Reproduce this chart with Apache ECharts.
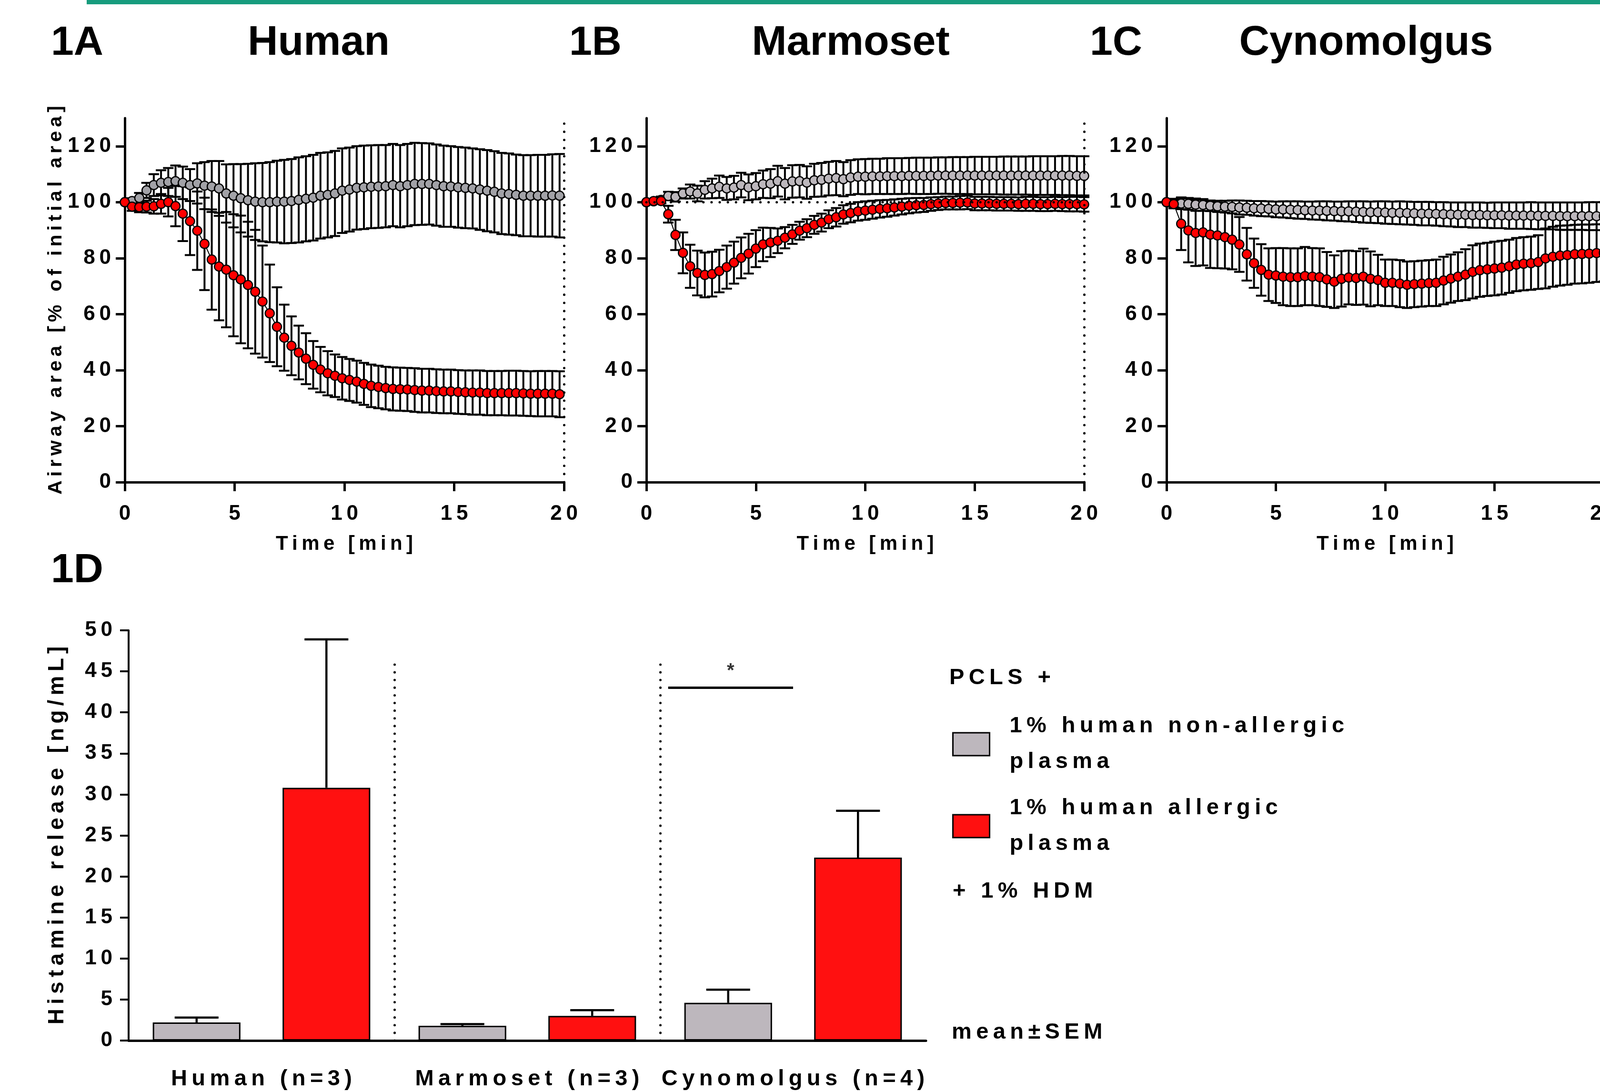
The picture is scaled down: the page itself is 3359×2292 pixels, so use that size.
<!DOCTYPE html>
<html>
<head>
<meta charset="utf-8">
<script src="https://cdn.jsdelivr.net/npm/echarts@6/dist/echarts.min.js"></script>
<style>
  html, body { margin: 0; padding: 0; background: #fff; }
  #chart { width: 3359px; height: 2292px; }
</style>
</head>
<body>
<div id="chart"></div>
<script>
const FONT = '"Liberation Sans", Arial, sans-serif'

// time points [min]
const timesA = [0, 0.33, 0.66, 0.99, 1.32, 1.65, 1.98, 2.31, 2.64, 2.97, 3.3, 3.63, 3.96, 4.29, 4.62, 4.95, 5.28, 5.61, 5.94, 6.27,
  6.6, 6.93, 7.26, 7.59, 7.92, 8.25, 8.58, 8.91, 9.24, 9.57, 9.9, 10.23, 10.56, 10.89, 11.22, 11.55, 11.88, 12.21, 12.54, 12.87,
  13.2, 13.53, 13.86, 14.19, 14.52, 14.85, 15.18, 15.51, 15.84, 16.17, 16.5, 16.83, 17.16, 17.49, 17.82, 18.15, 18.48, 18.81, 19.14, 19.47, 19.8]
const timesBC = [0, 0.33, 0.67, 1, 1.33, 1.67, 2, 2.33, 2.67, 3, 3.33, 3.67, 4, 4.33, 4.67, 5, 5.33, 5.67, 6, 6.33,
  6.67, 7, 7.33, 7.67, 8, 8.33, 8.67, 9, 9.33, 9.67, 10, 10.33, 10.67, 11, 11.33, 11.67, 12, 12.33, 12.67, 13,
  13.33, 13.67, 14, 14.33, 14.67, 15, 15.33, 15.67, 16, 16.33, 16.67, 17, 17.33, 17.67, 18, 18.33, 18.67, 19, 19.33, 19.67, 20]

// 1A Human - airway area [% of initial area], mean and SEM
const humanCtrl = [100, 100.4, 101.5, 104.2, 106.1, 106.9, 107.2, 107.5, 106.9, 106.1,
  106.7, 105.9, 105.6, 104.9, 103.1, 102.3, 101.4, 100.7, 100.2, 100,
  100, 100.2, 100.2, 100.4, 100.8, 101.2, 101.6, 102.3, 102.6, 103.1,
  104.1, 104.5, 105.1, 105.3, 105.5, 105.6, 105.7, 106.1, 105.7, 106.1,
  106.5, 106.5, 106.5, 106.1, 105.7, 105.6, 105.3, 105.1, 104.9, 104.5,
  104.1, 103.7, 103.1, 102.9, 102.6, 102.3, 102.3, 102.3, 102.3, 102.4, 102.3]
const humanCtrlSem = [0, 1.0, 1.8, 2.7, 3.9, 4.5, 5.0, 5.6, 5.8, 5.7,
  7.2, 8.4, 9.1, 9.8, 10.4, 11.3, 12.2, 13.0, 13.7, 14.0,
  14.3, 14.6, 14.9, 15.0, 15.2, 15.2, 15.3, 15.3, 15.2, 15.2,
  15.1, 15.0, 14.9, 14.9, 14.8, 14.8, 14.7, 14.7, 14.7, 14.7,
  14.7, 14.6, 14.5, 14.5, 14.5, 14.4, 14.4, 14.4, 14.3, 14.4,
  14.5, 14.5, 14.5, 14.5, 14.4, 14.5, 14.5, 14.6, 14.6, 14.7, 14.9]
const humanAll = [100, 98.4, 98.2, 98.4, 98.5, 99.4, 100, 98.6, 95.9, 93.2,
  89.8, 85.1, 79.5, 77, 75.9, 73.9, 72.4, 70.4, 68, 64.5,
  60.3, 55.5, 51.6, 48.7, 46.3, 44.1, 41.9, 40.2, 38.9, 38,
  37.1, 36.5, 35.9, 35.1, 34.4, 34, 33.6, 33.3, 33.2, 33.1,
  32.9, 32.7, 32.7, 32.5, 32.4, 32.4, 32.2, 32.1, 32, 32,
  31.8, 31.8, 31.8, 31.8, 31.8, 31.7, 31.6, 31.6, 31.6, 31.6, 31.4]
const humanAllSem = [0, 1.5, 1.8, 2.1, 2.6, 3.5, 5.1, 7.2, 9.8, 12.1,
  14.0, 16.5, 17.9, 19.2, 20.6, 21.8, 22.8, 22.6, 22.1, 20.0,
  17.4, 14.1, 11.8, 10.5, 9.6, 9.1, 8.5, 8.1, 7.9, 7.6,
  7.6, 7.5, 7.5, 7.5, 7.6, 7.6, 7.6, 7.7, 7.7, 7.7,
  7.8, 7.8, 7.8, 7.8, 7.8, 7.8, 7.8, 7.8, 7.9, 7.9,
  7.9, 7.9, 7.9, 8.0, 8.0, 8.0, 8.0, 8.1, 8.1, 8.1, 8.2]

// 1B Marmoset
const marmCtrl = [100, 100.3, 100.8, 102.2, 101.9, 103.1, 103.8, 103.1, 104.4, 104.9,
  105.5, 104.9, 105.2, 106.1, 105.3, 105.7, 106.4, 106.6, 107.5, 106.6,
  107.4, 107.5, 107.0, 107.8, 108.0, 108.4, 108.6, 108.2, 108.8, 109.1,
  109.1, 109.2, 109.2, 109.3, 109.3, 109.3, 109.4, 109.4, 109.4, 109.4,
  109.5, 109.5, 109.5, 109.5, 109.5, 109.5, 109.5, 109.5, 109.5, 109.5,
  109.5, 109.5, 109.5, 109.5, 109.5, 109.5, 109.5, 109.5, 109.5, 109.4, 109.4]
const marmCtrlSem = [0, 0.8, 1.2, 1.5, 1.7, 1.8, 2.5, 2.8, 3.1, 3.5,
  4.0, 4.1, 4.2, 4.4, 4.6, 4.7, 4.9, 5.2, 5.5, 5.6,
  5.8, 5.8, 5.8, 5.9, 6.0, 6.0, 6.1, 6.1, 6.2, 6.2,
  6.3, 6.3, 6.3, 6.4, 6.4, 6.4, 6.4, 6.5, 6.5, 6.5,
  6.5, 6.5, 6.6, 6.6, 6.6, 6.7, 6.7, 6.7, 6.7, 6.8,
  6.8, 6.8, 6.8, 6.9, 6.9, 6.9, 6.9, 7.0, 7.0, 7.0, 7.0]
const marmAll = [100, 100.4, 100.4, 95.7, 88.3, 81.9, 77.1, 74.7, 74.0, 74.3,
  75.4, 76.8, 78.4, 80.1, 81.6, 83.4, 84.9, 85.6, 86.2, 87.3,
  88.5, 89.8, 90.7, 91.9, 92.7, 93.9, 94.6, 95.6, 96.1, 96.7,
  97.0, 97.3, 97.6, 97.8, 98.1, 98.4, 98.7, 98.9, 99.0, 99.3,
  99.5, 99.7, 99.7, 99.8, 99.9, 99.5, 99.5, 99.5, 99.4, 99.4,
  99.4, 99.3, 99.4, 99.4, 99.3, 99.3, 99.4, 99.3, 99.3, 99.3, 99.2]
const marmAllSem = [0, 0.5, 0.8, 3.0, 5.4, 7.3, 7.7, 8.0, 8.0, 8.0,
  7.6, 7.7, 7.5, 7.3, 7.1, 6.6, 6.0, 5.2, 4.4, 3.8,
  3.4, 3.2, 3.2, 3.2, 3.2, 3.2, 3.3, 3.3, 3.3, 3.3,
  3.3, 3.2, 3.1, 3.0, 2.9, 2.8, 2.7, 2.6, 2.5, 2.4,
  2.3, 2.3, 2.3, 2.4, 2.4, 2.4, 2.4, 2.4, 2.4, 2.4,
  2.4, 2.4, 2.5, 2.5, 2.5, 2.5, 2.5, 2.5, 2.6, 2.6, 2.6]

// 1C Cynomolgus
const cynoCtrl = [100, 99.6, 99.5, 99.4, 99.1, 99.0, 98.7, 98.5, 98.4, 98.3,
  98.1, 98.0, 97.8, 97.7, 97.6, 97.4, 97.4, 97.3, 97.2, 97.1,
  97.0, 97.0, 96.9, 96.8, 96.7, 96.7, 96.6, 96.5, 96.4, 96.4,
  96.3, 96.2, 96.2, 96.1, 96.0, 95.9, 95.9, 95.8, 95.7, 95.6,
  95.5, 95.5, 95.4, 95.4, 95.3, 95.3, 95.3, 95.2, 95.2, 95.2,
  95.2, 95.1, 95.1, 95.1, 95.0, 95.0, 95.0, 95.0, 95.0, 95.0, 95.0]
const cynoCtrlSem = [0, 1.6, 2.0, 2.1, 2.2, 2.1, 1.9, 2.0, 2.1, 2.3,
  2.5, 2.5, 2.6, 2.7, 2.7, 2.8, 2.9, 3.0, 3.1, 3.1,
  3.2, 3.3, 3.4, 3.4, 3.5, 3.6, 3.7, 3.8, 3.8, 3.9,
  4.0, 4.0, 4.1, 4.1, 4.1, 4.2, 4.2, 4.2, 4.3, 4.3,
  4.4, 4.4, 4.5, 4.5, 4.5, 4.6, 4.6, 4.7, 4.7, 4.7,
  4.8, 4.8, 4.8, 4.8, 4.9, 4.9, 4.9, 4.9, 5.0, 5.0, 5.0]
const cynoAll = [100, 99.3, 92.3, 89.9, 89.0, 89.2, 88.4, 88.1, 87.5, 86.6,
  84.9, 81.4, 78.2, 75.8, 74.1, 73.8, 73.4, 73.2, 73.2, 73.6,
  73.4, 73.2, 72.4, 71.6, 72.6, 73.1, 72.9, 73.4, 72.6, 72.2,
  71.2, 71.2, 70.9, 70.5, 70.7, 70.9, 71.1, 71.2, 72.0, 72.7,
  73.4, 74.1, 75.1, 75.7, 76.0, 76.3, 76.6, 77.1, 77.7, 78.0,
  78.2, 78.6, 79.9, 80.5, 80.9, 81.1, 81.4, 81.5, 81.6, 81.8, 81.9]
const cynoAllSem = [0, 1.5, 9.4, 11.4, 11.8, 11.8, 11.9, 11.7, 11.2, 10.6,
  9.8, 9.4, 8.8, 9.2, 9.4, 9.8, 10.2, 10.3, 10.3, 10.4,
  10.2, 10.3, 9.8, 9.4, 9.9, 9.6, 9.6, 10.0, 9.8, 9.0,
  8.3, 8.3, 8.4, 8.3, 8.2, 8.2, 8.2, 8.3, 8.5, 8.6,
  8.7, 9.1, 9.5, 9.5, 9.5, 9.6, 9.6, 9.5, 9.5, 9.5,
  9.5, 9.6, 10.7, 10.7, 10.7, 10.6, 10.5, 10.5, 10.4, 10.3, 10.2]

const airwayTicks = [0, 20, 40, 60, 80, 100, 120]

// 1D histamine release [ng/mL]
const groups = ['Human (n=3)', 'Marmoset (n=3)', 'Cynomolgus (n=4)']
const ctrlName = '1% human non-allergic plasma'
const allName = '1% human allergic plasma'
const histCtrl = [2.2, 1.8, 4.6]
const histCtrlSem = [0.6, 0.2, 1.6]
const histAll = [30.8, 3.0, 22.3]
const histAllSem = [18.1, 0.7, 5.7]
const sigBar = [[2.03, 43], [2.5, 43]]
const sigStar = [[2.265, 43]]
const separators = [1, 2]
const separatorTop = 46

// GraphPad style wide letter spacing
function sp(s) {
  return String(s).split('').join('\u2009')
}

const chart = echarts.init(document.getElementById('chart'))

const panels = [
  { left: 262, width: 922, times: timesA, ctrl: humanCtrl, ctrlSem: humanCtrlSem, all: humanAll, allSem: humanAllSem, gray: '#a2a2a7', yName: true, hLine: false },
  { left: 1357, width: 919, times: timesBC, ctrl: marmCtrl, ctrlSem: marmCtrlSem, all: marmAll, allSem: marmAllSem, gray: '#bcb7bc', yName: false, hLine: true },
  { left: 2449, width: 918, times: timesBC, ctrl: cynoCtrl, ctrlSem: cynoCtrlSem, all: cynoAll, allSem: cynoAllSem, gray: '#bcb7bc', yName: false, hLine: false }
]

const axisLineStyle = { color: '#000', width: 5 }
const boldText = { fontFamily: FONT, fontWeight: 'bold', color: '#000' }
const dots = { color: '#000', width: 5, type: [0.1, 17], cap: 'round' }

// error bars with caps, both directions
function timeErr(params, api) {
  const t = api.value(0)
  const m = api.value(1)
  const s = api.value(2)
  if (!s) return null
  const hi = api.coord([t, m + s])
  const lo = api.coord([t, m - s])
  const st = { stroke: '#000', lineWidth: 4 }
  return {
    type: 'group',
    children: [
      { type: 'line', shape: { x1: hi[0], y1: hi[1], x2: lo[0], y2: lo[1] }, style: st },
      { type: 'line', shape: { x1: hi[0] - 11, y1: hi[1], x2: hi[0] + 11, y2: hi[1] }, style: st },
      { type: 'line', shape: { x1: lo[0] - 11, y1: lo[1], x2: lo[0] + 11, y2: lo[1] }, style: st }
    ]
  }
}

// upper error bar on a grouped bar; offset in fractions of the category band
function barErr(offset) {
  return function (params, api) {
    const i = api.value(0)
    const v = api.value(1)
    const s = api.value(2)
    const band = api.size([1, 0])[0]
    const base = api.coord([i, v])
    const top = api.coord([i, v + s])
    const x = base[0] + offset * band
    const hw = band * 0.33 * 0.25
    const st = { stroke: '#000', lineWidth: 4.5 }
    return {
      type: 'group',
      children: [
        { type: 'line', shape: { x1: x, y1: base[1], x2: x, y2: top[1] }, style: st },
        { type: 'line', shape: { x1: x - hw, y1: top[1], x2: x + hw, y2: top[1] }, style: st }
      ]
    }
  }
}

const grid = []
const xAxis = []
const yAxis = []
const series = []

panels.forEach((p, k) => {
  grid.push({ left: p.left, top: 248, width: p.width, height: 764, containLabel: false, outerBoundsMode: 'none' })
  xAxis.push({
    type: 'value', gridIndex: k, min: 0, max: 20, interval: 5,
    axisLine: { show: true, onZero: false, lineStyle: axisLineStyle },
    axisTick: { show: true, length: 19, lineStyle: axisLineStyle },
    axisLabel: { ...boldText, fontSize: 44, margin: 45, formatter: v => sp(v) },
    splitLine: { show: false },
    name: sp('Time [min]'), nameLocation: 'middle', nameGap: 109,
    nameTextStyle: { ...boldText, fontSize: 42 }
  })
  yAxis.push({
    type: 'value', gridIndex: k, min: 0, max: 130,
    axisLine: { show: true, onZero: false, lineStyle: axisLineStyle },
    axisTick: { show: true, length: 19, lineStyle: axisLineStyle, customValues: airwayTicks },
    axisLabel: { ...boldText, fontSize: 44, margin: 29, customValues: airwayTicks, formatter: v => sp(v) },
    splitLine: { show: false },
    name: p.yName ? sp('Airway area [% of initial area]') : '',
    nameLocation: 'middle', nameGap: 117,
    nameTextStyle: { ...boldText, fontSize: 41 }
  })

  const markData = [{ xAxis: 20 }]
  if (p.hLine) markData.push({ yAxis: 100 })

  series.push({
    type: 'custom', name: 'ctrl err ' + k, xAxisIndex: k, yAxisIndex: k, z: 2,
    renderItem: timeErr, data: p.times.map((t, i) => [t, p.ctrl[i], p.ctrlSem[i]])
  })
  series.push({
    type: 'custom', name: 'allergic err ' + k, xAxisIndex: k, yAxisIndex: k, z: 2,
    renderItem: timeErr, data: p.times.map((t, i) => [t, p.all[i], p.allSem[i]])
  })
  series.push({
    type: 'line', name: 'ctrl ' + k, xAxisIndex: k, yAxisIndex: k, z: 3,
    data: p.times.map((t, i) => [t, p.ctrl[i]]),
    symbol: 'circle', symbolSize: 19, showAllSymbol: true,
    lineStyle: { color: '#000', width: 2 },
    itemStyle: { color: p.gray, borderColor: '#000', borderWidth: 2.5 },
    markLine: { silent: true, symbol: 'none', label: { show: false }, lineStyle: dots, data: markData }
  })
  series.push({
    type: 'line', name: 'allergic ' + k, xAxisIndex: k, yAxisIndex: k, z: 4,
    data: p.times.map((t, i) => [t, p.all[i]]),
    symbol: 'circle', symbolSize: 19, showAllSymbol: true,
    lineStyle: { color: '#000', width: 2 },
    itemStyle: { color: '#ff0000', borderColor: '#000', borderWidth: 2.5 }
  })
})

// panel 1D
grid.push({ left: 270, top: 1323, width: 1674, height: 861, containLabel: false, outerBoundsMode: 'none' })
xAxis.push({
  type: 'category', gridIndex: 3, data: groups,
  axisLine: { show: true, lineStyle: axisLineStyle },
  axisTick: { show: false },
  axisLabel: { ...boldText, fontSize: 47, margin: 58, interval: 0, formatter: v => sp(v) }
})
// helper axis for annotations between categories
xAxis.push({ type: 'value', gridIndex: 3, min: 0, max: 3, show: false })
yAxis.push({
  type: 'value', gridIndex: 3, min: 0, max: 50, interval: 5,
  axisLine: { show: true, lineStyle: { color: '#000', width: 4 } },
  axisTick: { show: true, length: 18, lineStyle: { color: '#000', width: 4 } },
  axisLabel: { ...boldText, fontSize: 44, margin: 34, formatter: v => sp(v) },
  splitLine: { show: false },
  name: sp('Histamine release [ng/mL]'), nameLocation: 'middle', nameGap: 127,
  nameTextStyle: { ...boldText, fontSize: 46 }
})

series.push({
  type: 'bar', name: ctrlName, xAxisIndex: 3, yAxisIndex: 3, data: histCtrl,
  barWidth: '33%', barGap: '48%',
  itemStyle: { color: '#bdb7bd', borderColor: '#000', borderWidth: 3 }
})
series.push({
  type: 'bar', name: allName, xAxisIndex: 3, yAxisIndex: 3, data: histAll,
  barWidth: '33%', barGap: '48%',
  itemStyle: { color: '#ff1010', borderColor: '#000', borderWidth: 3 }
})
series.push({
  type: 'custom', name: 'ctrl sem', xAxisIndex: 3, yAxisIndex: 3, z: 3,
  renderItem: barErr(-0.2442), data: groups.map((g, i) => [i, histCtrl[i], histCtrlSem[i]])
})
series.push({
  type: 'custom', name: 'allergic sem', xAxisIndex: 3, yAxisIndex: 3, z: 3,
  renderItem: barErr(0.2442), data: groups.map((g, i) => [i, histAll[i], histAllSem[i]])
})
series.push({
  type: 'line', name: 'significance', xAxisIndex: 4, yAxisIndex: 3, data: sigBar,
  symbol: 'none', lineStyle: { color: '#000', width: 5 },
  markLine: {
    silent: true, symbol: 'none', label: { show: false },
    lineStyle: { color: '#000', width: 5, type: [0.1, 16], cap: 'round' },
    data: separators.map(x => [{ coord: [x, 0] }, { coord: [x, separatorTop] }])
  }
})
series.push({
  type: 'scatter', name: 'star', xAxisIndex: 4, yAxisIndex: 3, data: sigStar,
  symbolSize: 0,
  label: { show: true, position: 'top', distance: 14, formatter: '*', ...boldText, fontSize: 40 }
})

function txt(text, x, y, size, align) {
  return {
    type: 'text', silent: true,
    style: { text: text, x: x, y: y, font: 'bold ' + size + 'px ' + FONT, fill: '#000', align: align || 'left', verticalAlign: 'middle' }
  }
}

const option = {
  animation: false,
  backgroundColor: '#fff',
  grid: grid,
  xAxis: xAxis,
  yAxis: yAxis,
  series: series,
  legend: {
    data: [ctrlName, allName],
    orient: 'vertical', left: 1994, top: 1482, itemGap: 22,
    icon: 'rect', itemWidth: 77, itemHeight: 48,
    itemStyle: { borderColor: '#000', borderWidth: 3 },
    selectedMode: false,
    formatter: name => name.replace(/ plasma$/, '\nplasma').split('\n').map(sp).join('\n'),
    textStyle: { ...boldText, fontSize: 47, lineHeight: 75, padding: [0, 0, 0, 37] }
  },
  graphic: [
    { type: 'rect', silent: true, shape: { x: 182, y: 0, width: 3177, height: 9 }, style: { fill: '#179c7d' } },
    txt('1A', 107, 91, 86),
    txt('Human', 669, 91, 88, 'center'),
    txt('1B', 1195, 91, 86),
    txt('Marmoset', 1786, 91, 88, 'center'),
    txt('1C', 2288, 91, 86),
    txt('Cynomolgus', 2868, 91, 88, 'center'),
    txt('1D', 107, 1198, 86),
    txt(sp('PCLS +'), 1993, 1423, 47),
    txt(sp('+ 1% HDM'), 2000, 1871, 47),
    txt(sp('mean±SEM'), 1998, 2167, 47)
  ]
}

chart.setOption(option)

window.addEventListener('resize', () => chart.resize())
</script>
</body>
</html>
